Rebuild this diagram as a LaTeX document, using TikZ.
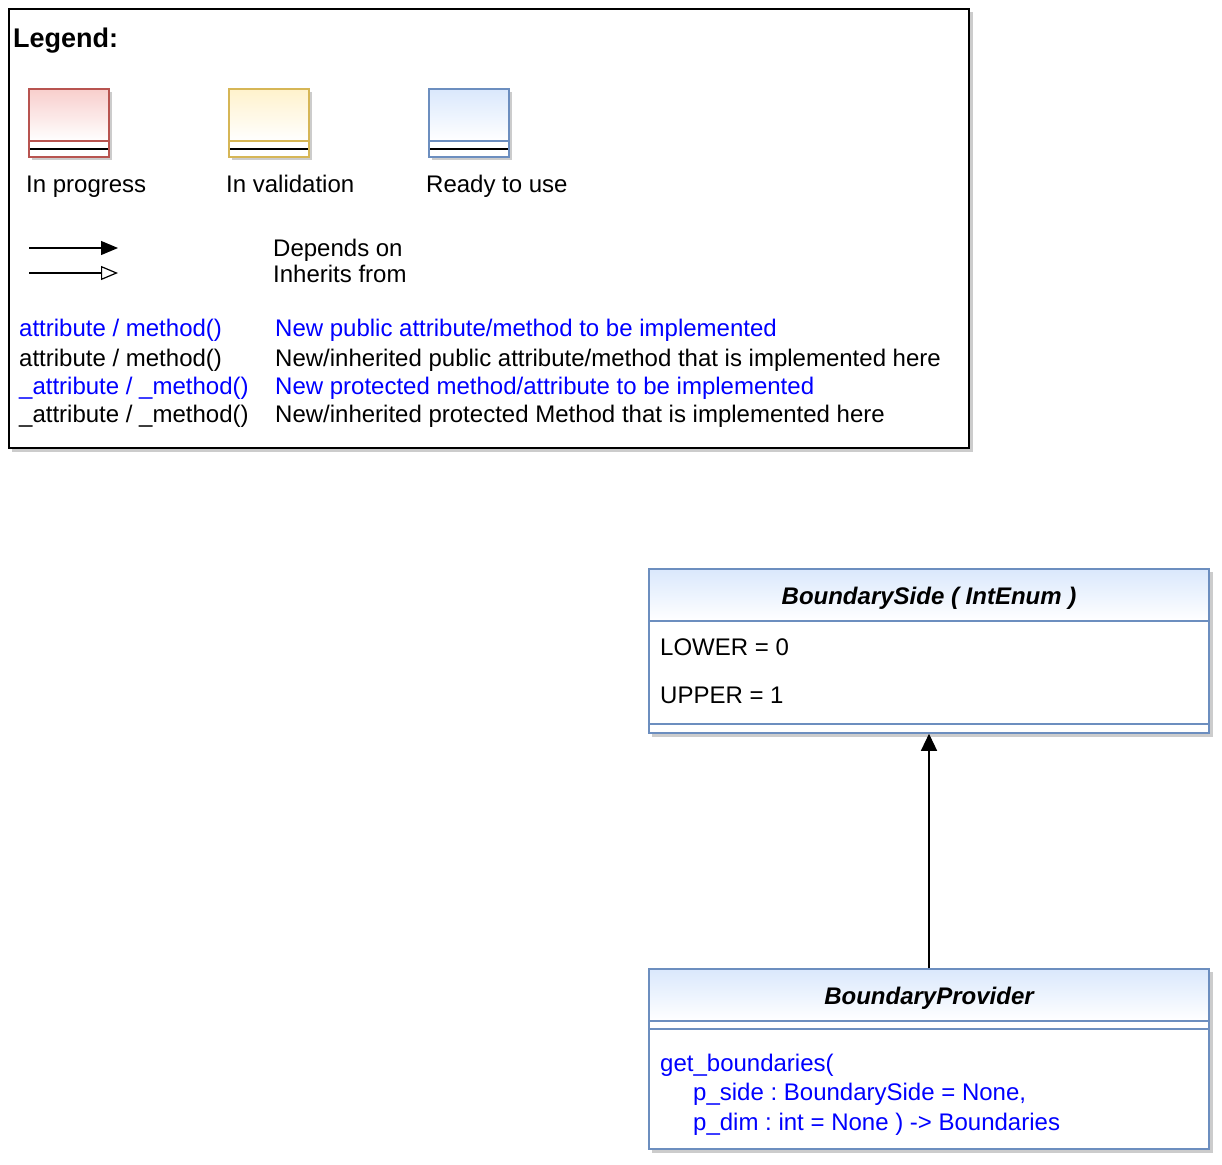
\documentclass[tikz,border=0pt]{standalone}
\usepackage{fontspec}
\setmainfont{Liberation Sans}
\frenchspacing
\usetikzlibrary{arrows.meta}
\definecolor{fillred}{HTML}{F8CECC}
\definecolor{linered}{HTML}{B85450}
\definecolor{fillyel}{HTML}{FFF2CC}
\definecolor{lineyel}{HTML}{D6B656}
\definecolor{fillblu}{HTML}{DAE8FC}
\definecolor{lineblu}{HTML}{6C8EBF}
\definecolor{mblue}{HTML}{0000FF}

\begin{document}
\begin{tikzpicture}[x=1pt,y=-1pt,
  txt/.style={anchor=west,inner sep=0pt,text height=20pt,text depth=3pt,font=\fontsize{24}{28}\selectfont},
  ttl/.style={txt,anchor=center,font=\fontsize{24}{28}\selectfont\bfseries\itshape},
  dep/.style={line width=1.2pt,-{Triangle[length=17pt,width=14pt]}},
  inh/.style={line width=1.2pt,-{Triangle[open,length=17pt,width=14pt]}},
  shad/.style={fill=black,opacity=0.2},
  cls/.style={draw=lineblu,line width=1.5pt,inner sep=0pt,minimum width=560pt}]
\useasboundingbox (0,0) rectangle (1222,1164);

% legend
\fill[shad] (12,12) rectangle (973,452);
\draw[fill=white,line width=1.5pt] (9,9) rectangle (969,448);
\node[txt,font=\fontsize{27}{30}\selectfont\bfseries] (leg) at (13,39) {Legend:};

\foreach \x/\col/\t [count=\i] in {29/red/In progress,229/yel/In validation,429/blu/Ready to use}
{\fill[shad] (\x+3,92) rectangle (\x+83,160);
\fill[white] (\x,89) rectangle (\x+80,157);
\shade[top color=fill\col,bottom color=white] (\x,89) rectangle (\x+80,141);
\draw[line\col,line width=1.5pt] (\x,89) rectangle (\x+80,157) (\x,141) -- (\x+80,141);
\draw[line width=1.5pt] (\x+1,149) -- (\x+79,149);
\node[txt] (s\i) at (\x-3,184) {\t};}

\coordinate (d0) at (29,248); \coordinate (d1) at (118,248);
\coordinate (i0) at (29,273); \coordinate (i1) at (118,273);
\draw[dep] (d0) -- (d1);
\draw[inh] (i0) -- (i1);
\node[txt] (tdep) at (273,248) {Depends on};
\node[txt] (tinh) at (273,274) {Inherits from};

\node[txt,mblue] (a1) at (19,328) {attribute / method()};
\node[txt,mblue] (b1) at (275,328) {New public attribute/method to be implemented};
\node[txt] (a2) at (19,358) {attribute / method()};
\node[txt] (b2) at (275,358) {New/inherited public attribute/method that is implemented here};
\node[txt,mblue] (a3) at (19,386) {\_attribute / \_method()};
\node[txt,mblue] (b3) at (275,386) {New protected method/attribute to be implemented};
\node[txt] (a4) at (19,414) {\_attribute / \_method()};
\node[txt] (b4) at (275,414) {New/inherited protected Method that is implemented here};

% BoundarySide
\fill[shad] (652,572) rectangle (1213,737);
\fill[white] (649,569) rectangle (1209,733);
\shade[top color=fillblu,bottom color=white] (649,569) rectangle (1209,621);
\node[cls,minimum height=164pt] (side) at (929,651) {};
\draw[lineblu,line width=1.5pt] (649,621) -- (1209,621) (649,724) -- (1209,724);
\node[ttl] (sidet) at (929,596) {BoundarySide ( IntEnum )};
\node[txt] (low) at (660,647) {LOWER = 0};
\node[txt] (upp) at (660,695) {UPPER = 1};

% BoundaryProvider
\fill[shad] (652,972) rectangle (1213,1153);
\fill[white] (649,969) rectangle (1209,1149);
\shade[top color=fillblu,bottom color=white] (649,969) rectangle (1209,1021);
\node[cls,minimum height=180pt] (prov) at (929,1059) {};
\draw[lineblu,line width=1.5pt] (649,1021) -- (1209,1021) (649,1029) -- (1209,1029);
\node[ttl] (provt) at (929,996) {BoundaryProvider};
\node[txt,mblue] (m1) at (660,1063) {get\_boundaries(};
\node[txt,mblue] (m2) at (693,1092) {p\_side : BoundarySide = None,};
\node[txt,mblue] (m3) at (693,1122) {p\_dim : int = None ) -> Boundaries};

\draw[dep,-{Triangle[length=17pt,width=16pt]}] (prov.north) -- (side.south);

\end{tikzpicture}
\end{document}
